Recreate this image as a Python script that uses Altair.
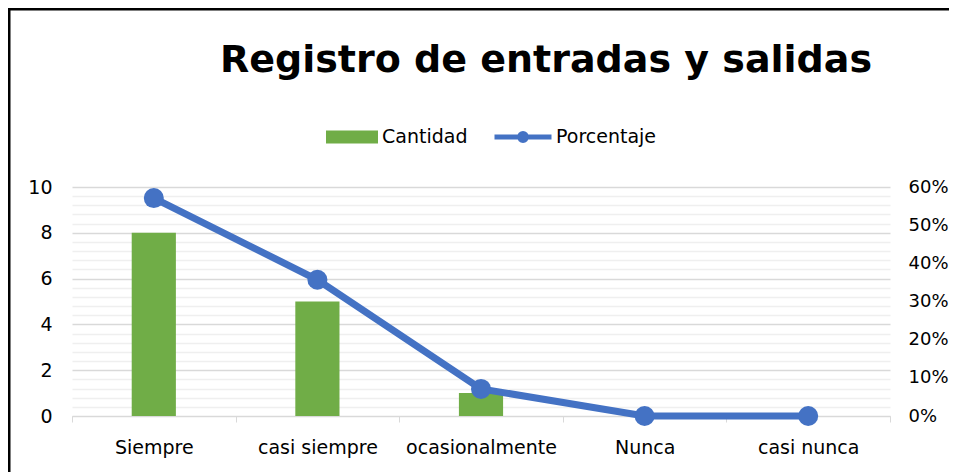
import altair as alt
import pandas as pd

categories = ["Siempre", "casi siempre", "ocasionalmente", "Nunca", "casi nunca"]
cantidad = [8, 5, 1, 0, 0]
porcentaje = [0.571, 0.357, 0.071, 0.0, 0.0]

df = pd.DataFrame({"cat": categories, "Cantidad": cantidad, "Porcentaje": porcentaje})

GREEN = "#70ad47"
BLUE = "#4472c4"
FONT = "DejaVu Sans"
FS = 19
W, H = 818, 229

x_enc = alt.X(
    "cat:N", sort=categories, title=None,
    scale=alt.Scale(paddingInner=0, paddingOuter=0),
    axis=alt.Axis(labelAngle=0, labelFont=FONT, labelFontSize=FS, labelColor="#000000",
                  tickBand="extent", tickSize=6, tickColor="#d9d9d9", domainColor="#d9d9d9",
                  labelPadding=16, grid=False),
)

minor_vals = [round(0.4 * i, 1) for i in range(26)]

bars = alt.Chart(df).mark_bar(width={"band": 0.27}).encode(
    x=x_enc,
    y=alt.Y("Cantidad:Q", title=None,
            scale=alt.Scale(domain=[0, 10], nice=False),
            axis=alt.Axis(orient="left", values=minor_vals, format=".0f",
                          labelExpr="datum.value % 2 === 0 ? datum.label : ''",
                          labelFont=FONT, labelFontSize=FS, labelColor="#000000",
                          labelPadding=20, ticks=False, domain=False, grid=True,
                          gridColor={"condition": {"test": "datum.value % 2 === 0", "value": "#d9d9d9"},
                                     "value": "#efefef"},
                          gridWidth=1.5)),
    fill=alt.Fill("series:N", scale=alt.Scale(domain=["Cantidad"], range=[GREEN]),
                  legend=alt.Legend(title=None, orient="none", legendX=254, legendY=-76,
                                    symbolType="M-1,-0.25H1V0.25H-1Z", symbolSize=2704,
                                    symbolStrokeWidth=0, labelFont=FONT, labelFontSize=FS,
                                    labelColor="#000000", labelOffset=4, padding=0)),
).transform_calculate(series="'Cantidad'")

line = alt.Chart(df).mark_line(strokeWidth=7).encode(
    x=x_enc,
    y=alt.Y("Porcentaje:Q", title=None,
            scale=alt.Scale(domain=[0, 0.6], nice=False),
            axis=alt.Axis(orient="right", values=[0, 0.1, 0.2, 0.3, 0.4, 0.5, 0.6], format=".0%",
                          labelFont=FONT, labelFontSize=18, labelColor="#000000",
                          labelPadding=18, ticks=False, domain=False, grid=False)),
    stroke=alt.Stroke("series:N", scale=alt.Scale(domain=["Porcentaje"], range=[BLUE]),
                      legend=alt.Legend(title=None, orient="none", legendX=420, legendY=-81,
                                        symbolType="M-1,0H1M-0.12,0A0.12,0.12 0 1,0 0.12,0A0.12,0.12 0 1,0 -0.12,0",
                                        symbolSize=3249, symbolStrokeWidth=5,
                                        symbolFillColor=BLUE, labelFont=FONT, labelFontSize=FS,
                                        labelColor="#000000", labelOffset=2, padding=0)),
).transform_calculate(series="'Porcentaje'")

points = alt.Chart(df).mark_point(filled=True, size=400, opacity=1, color=BLUE).encode(
    x=x_enc,
    y=alt.Y("Porcentaje:Q", scale=alt.Scale(domain=[0, 0.6], nice=False), axis=None),
)

frame = alt.Chart(alt.Data(values=[{"a": 1}])).mark_rect(
    filled=False, stroke="#000000", strokeWidth=3
).encode(
    x=alt.value(-63), x2=alt.value(W + 90),
    y=alt.value(-178), y2=alt.value(H + 80),
)

chart = alt.layer(bars, line, points, frame).resolve_scale(
    y="independent", fill="independent", stroke="independent"
).properties(
    width=W, height=H,
    title=alt.TitleParams("Registro de entradas y salidas", font=FONT, fontSize=38,
                          fontWeight="bold", color="#000000", anchor="middle",
                          baseline="alphabetic", dx=65, offset=-102),
    autosize=alt.AutoSizeParams(type="none"),
    padding={"left": 64, "top": 179, "right": 59, "bottom": 60},
).configure_view(stroke=None)

chart.save("out.html", embed_options={"renderer": "svg", "actions": False})
